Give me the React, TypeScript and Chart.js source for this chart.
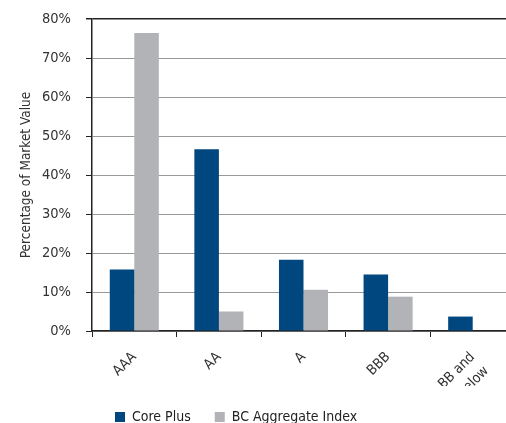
import React, { useEffect, useRef } from "react";
import { Chart, registerables } from "chart.js";

Chart.register(...registerables);

const categories: (string | string[])[] = ["AAA", "AA", "A", "BBB", ["BB and", "below"]];
const corePlus = [15.8, 46.6, 18.3, 14.5, 3.7];
const bcAggregate = [76.4, 5.0, 10.6, 8.8, 0];
const seriesNames = ["Core Plus", "BC Aggregate Index"];
const yTicks = [0, 10, 20, 30, 40, 50, 60, 70, 80];

const FONT = "'Liberation Sans Narrow', 'DejaVu Sans Condensed', Arial, sans-serif";

export default function App() {
  const ref = useRef<HTMLCanvasElement | null>(null);
  useEffect(() => {
    document.body.style.overflow = "hidden";
    document.documentElement.style.overflow = "hidden";
    const canvas = ref.current;
    if (!canvas) return;
    const shiftLegend = {
      id: "shiftLegend",
      afterLayout(chart: any) {
        const l = chart.legend;
        if (l) {
          const w = l.right - l.left;
          l.left = 91;
          l.right = 91 + w;
        }
      },
    };
    const chart = new Chart(canvas, {
      type: "bar",
      data: {
        labels: categories as any,
        datasets: [
          { label: seriesNames[0], data: corePlus, backgroundColor: "#00467F" },
          { label: seriesNames[1], data: bcAggregate, backgroundColor: "#B2B3B6" },
        ],
      },
      options: {
        responsive: false,
        animation: false,
        layout: { padding: { left: 0, right: 15, top: 0, bottom: 0 } },
        plugins: {
          tooltip: { enabled: false },
          legend: {
            position: "bottom",
            align: "start",
            labels: {
              boxWidth: 10,
              boxHeight: 10,
              padding: 24,
              color: "#222",
              font: { family: FONT, size: 14 },
            },
          },
        },
        datasets: { bar: { categoryPercentage: 0.58, barPercentage: 1 } } as any,
        scales: {
          x: {
            afterFit: (s: any) => {
              s.height = 55;
            },
            grid: {
              display: true,
              drawOnChartArea: false,
              drawTicks: true,
              tickLength: 6,
              tickColor: "#222",
              offset: true,
            },
            border: { display: true, color: "#222", width: 1.5 },
            ticks: {
              maxRotation: 45,
              minRotation: 45,
              padding: 11,
              color: "#333",
              font: { family: FONT, size: 14, lineHeight: 1.4 },
            },
          },
          y: {
            min: 0,
            max: 80,
            afterFit: (s: any) => {
              s.width = 92;
              s.paddingTop = 19;
              s.paddingBottom = 10;
            },
            afterBuildTicks: (s: any) => {
              s.ticks = yTicks.map((v) => ({ value: v }));
            },
            grid: {
              color: (ctx: any) => (ctx.tick && ctx.tick.value === 80 ? "#222" : "#999"),
              lineWidth: (ctx: any) => (ctx.tick && ctx.tick.value === 80 ? 1.5 : 1),
              tickLength: 6,
              tickColor: "#222",
            },
            border: { display: true, color: "#222", width: 1.5 },
            ticks: {
              padding: 15,
              color: "#333",
              font: { family: FONT, size: 14.5 },
              callback: (v: any) => v + "%",
            },
            title: {
              display: true,
              text: "Percentage of Market Value",
              color: "#333",
              font: { family: FONT, size: 13.5 },
              padding: { top: 18, bottom: 0 },
            },
          },
        },
      },
      plugins: [shiftLegend],
    });
    return () => chart.destroy();
  }, []);
  return (
    <div style={{ position: "absolute", left: 0, top: 0, width: 530, height: 434 }}>
      <canvas ref={ref} width={530} height={434} style={{ display: "block" }} />
    </div>
  );
}
